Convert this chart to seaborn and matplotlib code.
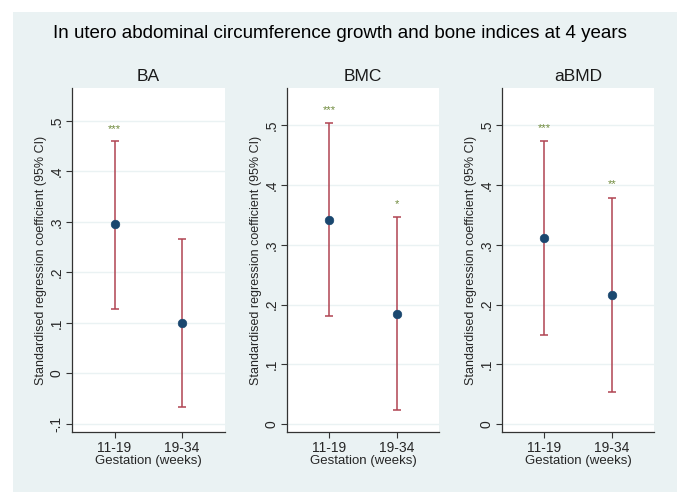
import numpy as np
import pandas as pd
import matplotlib
matplotlib.use("Agg")
import matplotlib.pyplot as plt
import seaborn as sns
from matplotlib.patches import Rectangle

sns.set_theme(style="white")
plt.rcParams['font.family'] = ['Liberation Sans', 'DejaVu Sans']
plt.rcParams['axes.unicode_minus'] = False

# data
periods = ["11-19", "19-34"]
outcomes = ["BA", "BMC", "aBMD"]
coef = {"BA": [0.295, 0.100], "BMC": [0.342, 0.185], "aBMD": [0.311, 0.216]}
lower = {"BA": [0.128, -0.067], "BMC": [0.181, 0.024], "aBMD": [0.149, 0.054]}
upper = {"BA": [0.461, 0.266], "BMC": [0.504, 0.346], "aBMD": [0.474, 0.379]}
stars = {"BA": ["***", ""], "BMC": ["***", "*"], "aBMD": ["***", "**"]}

yticks = {"BA": [-0.1, 0, 0.1, 0.2, 0.3, 0.4, 0.5],
          "BMC": [0, 0.1, 0.2, 0.3, 0.4, 0.5],
          "aBMD": [0, 0.1, 0.2, 0.3, 0.4, 0.5]}
ylims = {"BA": (-0.116, 0.565), "BMC": (-0.013, 0.5625), "aBMD": (-0.013, 0.5625)}

bg = "#eaf2f3"
bar_col = "#b04452"
pt_col = "#1a476f"
star_col = "#6f8a3c"


def fmt(v):
    if abs(v) < 1e-9:
        return "0"
    s = f"{v:.1f}"
    return s.replace("0.", ".")


fig = plt.figure(figsize=(6.92, 5.04), dpi=100)
fig.patch.set_facecolor("white")
fig.patches.append(Rectangle((13 / 692, 1 - 492 / 504), 664 / 692, 480 / 504,
                             transform=fig.transFigure, facecolor=bg,
                             edgecolor="none", zorder=-10))

fig.text(340 / 692, 1 - 33 / 504,
         "In utero abdominal circumference growth and bone indices at 4 years",
         ha="center", va="center", fontsize=13.5, color="black")

lefts = [72, 286.7, 501.7]
w = 152.5
for name, left in zip(outcomes, lefts):
    ax = fig.add_axes([left / 692, 1 - 432 / 504, w / 692, 344 / 504])
    ax.set_facecolor("white")
    df = pd.DataFrame({"period": periods, "coef": coef[name],
                       "lo": lower[name], "hi": upper[name]})
    xs = np.arange(len(periods))
    ax.errorbar(xs, df["coef"], yerr=[df["coef"] - df["lo"], df["hi"] - df["coef"]],
                fmt="none", ecolor=bar_col, elinewidth=1.1, capsize=2.6,
                capthick=1.1, zorder=2)
    sns.scatterplot(data=df, x="period", y="coef", ax=ax, color=pt_col,
                    s=38, edgecolor=pt_col, linewidth=0.5, zorder=3, legend=False)
    for i, st in enumerate(stars[name]):
        if st:
            ax.text(xs[i], df["hi"][i] + 0.022, st, ha="center", va="center",
                    fontsize=8, color=star_col)

    ax.set_xlim(-0.63, 1.63)
    ax.set_ylim(*ylims[name])
    ax.set_xticks(xs)
    ax.set_xticklabels(periods, fontsize=10)
    ax.set_yticks(yticks[name])
    ax.set_yticklabels([fmt(v) for v in yticks[name]], fontsize=10,
                       rotation=90, va="center")
    ax.yaxis.grid(True, color=bg, linewidth=1.0)
    ax.set_axisbelow(True)
    for s in ["top", "right"]:
        ax.spines[s].set_visible(False)
    for s in ["left", "bottom"]:
        ax.spines[s].set_color("#333333")
        ax.spines[s].set_linewidth(0.9)
    ax.tick_params(axis="both", which="major", length=4, width=0.8,
                   color="#333333", direction="out", left=True, bottom=True, pad=2)
    ax.tick_params(axis="x", pad=2.5)
    ax.set_xlabel("Gestation (weeks)", fontsize=9.5, labelpad=0)
    ax.set_ylabel("Standardised regression coefficient (95% CI)", fontsize=9,
                  labelpad=2)
    ax.set_title(name, fontsize=12.5, pad=5, color="#1a1a1a")

fig.savefig("out.png", dpi=100, facecolor="white")
